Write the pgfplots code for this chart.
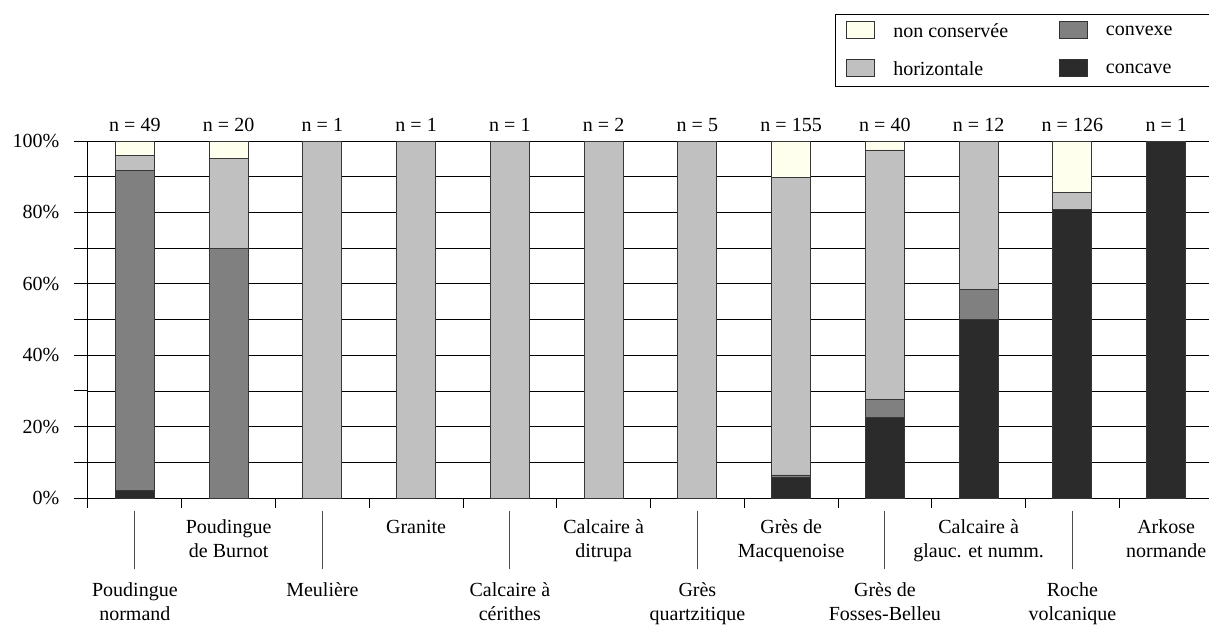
\documentclass[border=0pt]{standalone}
\usepackage{fontspec}
\setmainfont{Liberation Serif}
\usepackage{pgfplots}
\pgfplotsset{compat=1.18}
\definecolor{ncons}{RGB}{255,255,238}
\definecolor{horiz}{RGB}{192,192,192}
\definecolor{conv}{RGB}{128,128,128}
\definecolor{conc}{RGB}{43,43,43}
\definecolor{edge}{RGB}{55,55,55}
\newcommand\fnt{\fontsize{15}{18}\selectfont}
\newcommand\hi[2]{\begin{tabular}{@{}c@{}}\rule{0pt}{16.5pt}#1\\#2\end{tabular}}
\newcommand\lo[2]{\begin{tabular}{@{}c@{}}{\color{black!70}\rule{0.6pt}{43.5pt}}\\[2.25pt]#1\\#2\end{tabular}}
\begin{document}
\begin{tikzpicture}
\begin{axis}[
  scale only axis, width=843.75pt, height=267.75pt,
  xmin=-0.5, xmax=11.5, ymin=0, ymax=100,
  ybar stacked, bar width=29.25pt,
  axis lines=left, axis line style={-, black, line width=0.75pt},
  font=\fnt,
  tick align=outside, major tick length=7.5pt,
  ytick=\empty,
  extra y ticks={0,10,...,100},
  extra y tick labels={0\%,,20\%,,40\%,,60\%,,80\%,,100\%},
  extra y tick style={major tick length=10.5pt, grid=major},
  major grid style={black, line width=0.6pt},
  tick style={black, line width=0.75pt},
  xtick={-0.5,0.5,...,11.5},
  x tick label as interval,
  xticklabels={\lo{Poudingue}{normand},\hi{Poudingue}{de Burnot},\lo{Meulière}{},\hi{Granite}{},\lo{Calcaire à}{cérithes},\hi{Calcaire à}{ditrupa},\lo{Grès}{quartzitique},\hi{Grès de}{Macquenoise},\lo{Grès de}{Fosses-Belleu},\hi{Calcaire à}{glauc. et numm.},\lo{Roche}{volcanique},\hi{Arkose}{normande}},
  xticklabel style={anchor=north, inner sep=0pt, font=\fnt, yshift=-2.25pt},
  yticklabel style={font=\fnt, xshift=-7.5pt},
  every axis plot/.append style={draw=edge, line width=0.6pt},
  legend image code/.code={\draw[#1] (0pt,-4.6pt) rectangle (21pt,8.2pt); \path[draw=none,fill=none] (0pt,0pt) rectangle (33pt,1pt);},
  legend columns=2,
  legend cell align=left,
  legend style={at={(0.6640,1.3557)}, anchor=north west, draw=black, line width=0.8pt,
    fill=white, inner xsep=8pt, inner ysep=4.5pt, row sep=12pt, font=\fnt,
    /tikz/every even column/.append style={column sep=36pt}},
]
% concave
\addplot[fill=conc, forget plot] coordinates {(0,2.04) (1,0) (2,0) (3,0) (4,0) (5,0) (6,0) (7,5.81) (8,22.5) (9,50) (10,80.95) (11,100)};
% convexe
\addplot[fill=conv, forget plot] coordinates {(0,89.80) (1,70) (2,0) (3,0) (4,0) (5,0) (6,0) (7,0.65) (8,5) (9,8.33) (10,0) (11,0)};
% horizontale
\addplot[fill=horiz, forget plot] coordinates {(0,4.08) (1,25) (2,100) (3,100) (4,100) (5,100) (6,100) (7,83.22) (8,70) (9,41.67) (10,4.76) (11,0)};
% non conservee
\addplot[fill=ncons, forget plot] coordinates {(0,4.08) (1,5) (2,0) (3,0) (4,0) (5,0) (6,0) (7,10.32) (8,2.5) (9,0) (10,14.29) (11,0)};
\addlegendimage{fill=ncons, draw=black!80, line width=0.6pt}
\addlegendentry{non conservée}
\addlegendimage{fill=conv, draw=black!80, line width=0.6pt}
\addlegendentry{\makebox[88pt][l]{convexe}}
\addlegendimage{fill=horiz, draw=black!80, line width=0.6pt}
\addlegendentry{horizontale}
\addlegendimage{fill=conc, draw=black!80, line width=0.6pt}
\addlegendentry{\makebox[88pt][l]{concave}}
\end{axis}
% effectifs (n) above the bars
\begin{axis}[
  scale only axis, width=843.75pt, height=267.75pt,
  xmin=-0.5, xmax=11.5, ymin=0, ymax=100,
  axis x line*=top, axis y line=none,
  axis line style={draw=none},
  major tick length=0pt, tick style={draw=none},
  xtick={0,...,11},
  xticklabels={n = 49,n = 20,n = 1,n = 1,n = 1,n = 2,n = 5,n = 155,n = 40,n = 12,n = 126,n = 1},
  xticklabel style={anchor=south, inner sep=0pt, font=\fnt, yshift=7pt},
]
\end{axis}
\pgfresetboundingbox
\path[use as bounding box] ([shift={(-66pt,-96pt)}]current axis.south west) rectangle ([shift={(840.75pt,373.5pt)}]current axis.south west);
\end{tikzpicture}
\end{document}
